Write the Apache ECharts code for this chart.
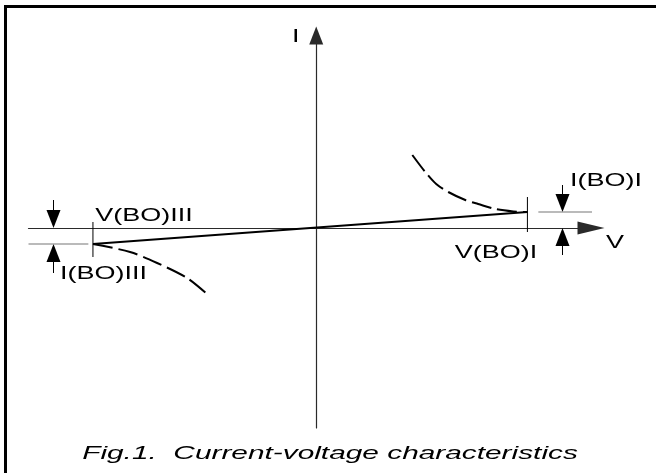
<!DOCTYPE html>
<html><head><meta charset="utf-8">
<script src="https://cdn.jsdelivr.net/npm/echarts@6/dist/echarts.min.js"></script>
<style>html,body{margin:0;padding:0;background:#fff}#c{width:656px;height:473px}</style>
</head><body><div id="c"></div>
<script>
// ---- data (axis units) ----
const VBO1 = 7.34, IBO1 = 0.8;     // first-quadrant breakover point
const VBO3 = -7.76, IBO3 = -0.8;   // third-quadrant breakover point
const offStateV = [VBO3, VBO1];
const offStateI = [IBO3, IBO1];
const upperCurveV = [3.34, 3.79, 4.17, 4.59, 5.18, 5.63, 6.23, 6.85, 7.34];
const upperCurveI = [3.65, 2.80, 2.20, 1.80, 1.40, 1.20, 0.95, 0.83, 0.80];
const lowerCurveV = [-7.76, -6.47, -5.53, -4.49, -3.76];
const lowerCurveI = [-0.80, -1.20, -1.75, -2.50, -3.35];
const axisNames = ['I', 'V'];
const markerLabels = ['V(BO)III', 'I(BO)III', 'V(BO)I', 'I(BO)I'];
const caption = 'Fig.1.  Current-voltage characteristics';

const X_MIN = -10, X_MAX = 9.55, Y_MIN = -10, Y_MAX = 9.625;
const FONT = '"Liberation Sans", Arial, sans-serif';
const zip = (a, b) => a.map((v, i) => [v, b[i]]);

const chart = echarts.init(document.getElementById('c'), null, {renderer: 'canvas'});

// label anchors (data) + pixel offsets
const labelItems = [
  {text: axisNames[0], at: [0, Y_MAX], off: [-20.5, 1]},
  {text: axisNames[1], at: [X_MAX, 0], off: [24, 14.5]},
  {text: markerLabels[0], at: [VBO3, 0], off: [51, -12]},
  {text: markerLabels[1], at: [VBO3, IBO3], off: [10.5, 29.5]},
  {text: markerLabels[2], at: [VBO1, 0], off: [-31.5, 24.5]},
  {text: markerLabels[3], at: [VBO1, IBO1], off: [78.5, -31]}
];

// dimension arrows: [x, tip, tail]
const leftX = -9.14, rightX = 8.55;
const arrowData = [
  [leftX, 0, 1.4],
  [leftX, IBO3, -2.25],
  [rightX, IBO1, 2.15],
  [rightX, 0, -1.35]
];

const plain = (data, style) => ({
  type: 'line', data, symbol: 'none', silent: true, animation: false,
  lineStyle: style, clip: false
});

chart.setOption({
  animation: false,
  backgroundColor: '#fff',
  grid: {left: 28.5, right: 65, top: 35.5, bottom: 45, containLabel: false, outerBoundsMode: 'none'},
  xAxis: {
    type: 'value', min: X_MIN, max: X_MAX,
    axisLine: {onZero: true, symbol: ['none', 'triangle'], symbolSize: [13, 27],
      lineStyle: {color: '#2a2a2a', width: 1.2}},
    axisTick: {show: false}, axisLabel: {show: false}, splitLine: {show: false}
  },
  yAxis: {
    type: 'value', min: Y_MIN, max: Y_MAX,
    axisLine: {onZero: true, symbol: ['none', 'triangle'], symbolSize: [14, 18],
      lineStyle: {color: '#2a2a2a', width: 1.2}},
    axisTick: {show: false}, axisLabel: {show: false}, splitLine: {show: false}
  },
  graphic: [
    {type: 'rect', shape: {x: 5.5, y: 6.5, width: 800, height: 600},
      style: {fill: 'none', stroke: '#000', lineWidth: 3}, silent: true, z: 0},
    {type: 'text', x: 330, y: 454, scaleX: 1.57,
      style: {text: caption, font: 'italic 19px ' + FONT, fill: '#000',
        align: 'center', verticalAlign: 'middle'}}
  ],
  series: [
    plain(zip(offStateV, offStateI), {color: '#000', width: 2}),
    Object.assign(plain(zip(upperCurveV, upperCurveI), {color: '#000', width: 2, type: [20, 6]}), {smooth: 0.3}),
    Object.assign(plain(zip(lowerCurveV, lowerCurveI), {color: '#000', width: 2, type: [20, 6]}), {smooth: 0.3}),
    // breakover ticks
    plain([[VBO3, 0.3], [VBO3, -1.45]], {color: '#000', width: 1}),
    plain([[VBO1, 1.55], [VBO1, -0.2]], {color: '#000', width: 1}),
    // reference lines for breakover currents
    plain([[X_MIN, IBO3], [-7.92, IBO3]], {color: '#777', width: 1.2}),
    plain([[7.72, IBO1], [9.91, IBO1]], {color: '#777', width: 1.2}),
    {
      type: 'custom', coordinateSystem: 'cartesian2d', clip: false, silent: true,
      data: arrowData, encode: {x: 0, y: [1, 2]},
      renderItem: function (params, api) {
        const tip = api.coord([api.value(0), api.value(1)]);
        const tail = api.coord([api.value(0), api.value(2)]);
        const dir = Math.sign(tip[1] - tail[1]);
        const len = 18, w = 14;
        const base = tip[1] - dir * len;
        const x = Math.round(tip[0]) + 0.5;
        return {type: 'group', children: [
          {type: 'line', shape: {x1: x, y1: tail[1], x2: x, y2: base}, style: {stroke: '#000', lineWidth: 1}},
          {type: 'polygon', shape: {points: [[x, tip[1]], [x - w / 2, base], [x + w / 2, base]]}, style: {fill: '#000'}}
        ]};
      }
    },
    {
      type: 'custom', coordinateSystem: 'cartesian2d', clip: false, silent: true,
      data: labelItems.map(d => d.at), encode: {x: 0, y: 1},
      renderItem: function (params, api) {
        const it = labelItems[params.dataIndex];
        const p = api.coord([api.value(0), api.value(1)]);
        return {type: 'text', x: p[0] + it.off[0], y: p[1] + it.off[1], scaleX: 1.42,
          style: {text: it.text, font: '19px ' + FONT, fill: '#000', align: 'center', verticalAlign: 'middle'}};
      }
    }
  ]
});
</script>
</body></html>
